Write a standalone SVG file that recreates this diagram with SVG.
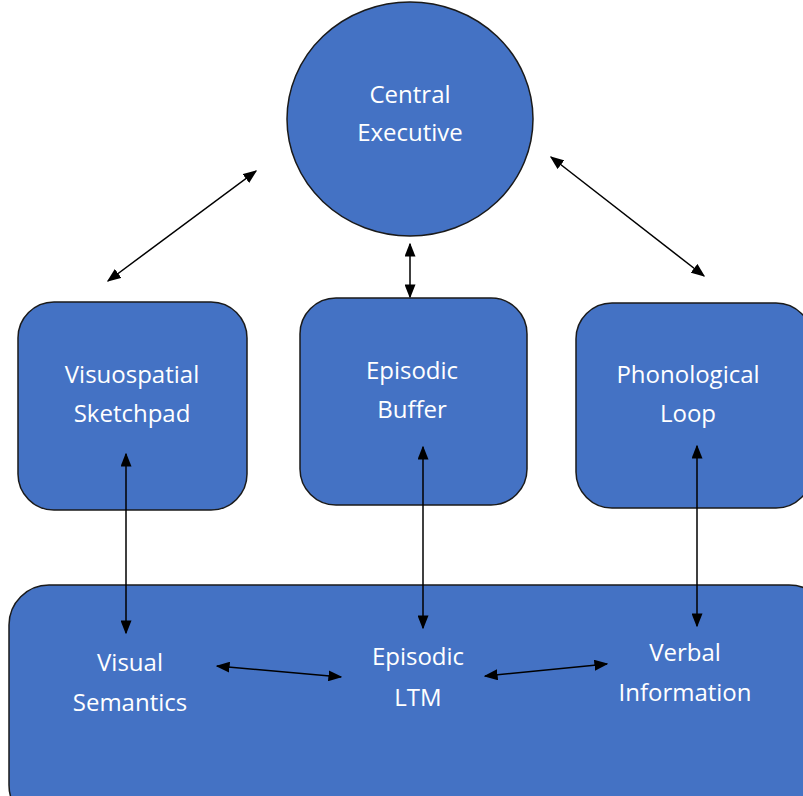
<svg xmlns="http://www.w3.org/2000/svg" width="803" height="796" viewBox="0 0 803 796">
<defs>
<style>
.node{fill:#4472C4;stroke:#1a1a1a;stroke-width:1.5}
.lbl{fill:#ffffff;font-family:"Open Sans","Liberation Sans",sans-serif;font-size:24px;text-anchor:middle}
.con{stroke:#000;stroke-width:1.5;fill:none;marker-start:url(#ah);marker-end:url(#ah)}
</style>
<marker id="ah" viewBox="0 0 10 10" refX="9" refY="5" markerWidth="14" markerHeight="11" orient="auto-start-reverse" markerUnits="userSpaceOnUse" preserveAspectRatio="none">
<path d="M0,0 L10,5 L0,10 z" fill="#000"/>
</marker>
</defs>
<rect width="803" height="796" fill="#fff"/>
<g id="central-executive">
<ellipse class="node" cx="410" cy="119" rx="123" ry="117"/>
<text class="lbl" x="410" y="103">Central</text>
<text class="lbl" x="410" y="141">Executive</text>
</g>
<g id="visuospatial-sketchpad">
<rect class="node" x="18" y="302" width="229" height="208" rx="36"/>
<text class="lbl" x="132" y="383">Visuospatial</text>
<text class="lbl" x="132" y="422">Sketchpad</text>
</g>
<g id="episodic-buffer">
<rect class="node" x="300" y="298" width="227" height="207" rx="36"/>
<text class="lbl" x="412" y="379">Episodic</text>
<text class="lbl" x="412" y="418">Buffer</text>
</g>
<g id="phonological-loop">
<rect class="node" x="576" y="303" width="236" height="205" rx="36"/>
<text class="lbl" x="688" y="383">Phonological</text>
<text class="lbl" x="688" y="422">Loop</text>
</g>
<g id="long-term-memory">
<rect class="node" x="9" y="585" width="820" height="240" rx="40"/>
<text class="lbl" x="130" y="671">Visual</text>
<text class="lbl" x="130" y="711">Semantics</text>
<text class="lbl" x="418" y="665">Episodic</text>
<text class="lbl" x="418" y="706">LTM</text>
<text class="lbl" x="685" y="661">Verbal</text>
<text class="lbl" x="685" y="701">Information</text>
</g>
<g id="connectors">
<line class="con" x1="108" y1="281" x2="256" y2="171"/>
<line class="con" x1="551" y1="157" x2="704" y2="276"/>
<line class="con" x1="410" y1="244" x2="410" y2="297"/>
<line class="con" x1="126" y1="454" x2="126" y2="633"/>
<line class="con" x1="423" y1="447" x2="423" y2="628"/>
<line class="con" x1="697" y1="446" x2="697" y2="626"/>
<line class="con" x1="217" y1="666" x2="341" y2="677"/>
<line class="con" x1="485" y1="676" x2="607" y2="664"/>
</g>
</svg>
